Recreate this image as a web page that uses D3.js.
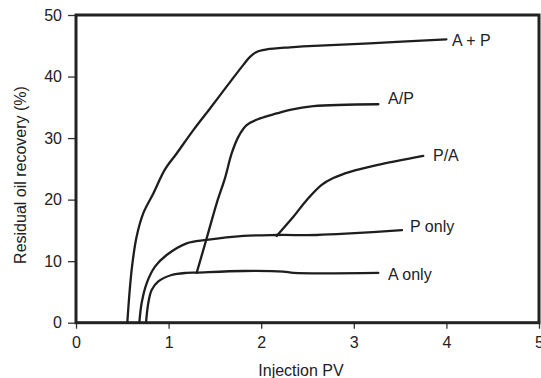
<!DOCTYPE html>
<html>
<head>
<meta charset="utf-8">
<script src="https://cdn.jsdelivr.net/npm/d3@7/dist/d3.min.js"></script>
<style>
  html, body { margin: 0; padding: 0; background: #fff; }
  svg { display: block; }
  text { font-family: "Liberation Sans", Arial, Helvetica, sans-serif; fill: #222; }
</style>
</head>
<body>
<svg id="chart" width="541" height="378"></svg>
<script>
// Residual oil recovery versus injected pore volumes for each flooding scheme
const xTicks = [0, 1, 2, 3, 4, 5];
const yTicks = [0, 10, 20, 30, 40, 50];

const apX = [0.554, 0.601, 0.655, 0.727, 0.835, 0.961, 1.087, 1.267, 1.447, 1.628, 1.807, 1.879, 1.951, 2.06, 2.31, 2.45, 3.17, 4.0];
const apY = [0, 8.6, 14.0, 17.8, 21.0, 24.9, 27.5, 31.3, 34.8, 38.4, 41.9, 43.2, 44.0, 44.4, 44.75, 44.9, 45.4, 46.05];

const aThenPX = [1.303, 1.411, 1.519, 1.609, 1.681, 1.753, 1.843, 1.987, 2.167, 2.311, 2.563, 3.265];
const aThenPY = [8.1, 13.7, 19.4, 23.5, 27.5, 30.2, 32.1, 33.2, 34.0, 34.6, 35.2, 35.5];

const pThenAX = [2.167, 2.347, 2.49, 2.653, 2.779, 2.959, 3.247, 3.75];
const pThenAY = [14.1, 17.2, 19.9, 22.4, 23.5, 24.5, 25.6, 27.1];

const pOnlyX = [0.684, 0.709, 0.763, 0.853, 0.979, 1.195, 1.411, 1.807, 2.167, 2.6, 2.96, 3.52];
const pOnlyY = [0, 3.2, 6.4, 9.1, 11.0, 12.9, 13.45, 14.1, 14.25, 14.25, 14.5, 15.05];

const aOnlyX = [0.756, 0.781, 0.817, 0.889, 1.033, 1.195, 1.303, 1.807, 2.24, 2.35, 3.265];
const aOnlyY = [0, 3.2, 5.3, 6.7, 7.75, 8.1, 8.15, 8.4, 8.3, 8.1, 8.1];

const seriesNames = ["A + P", "A/P", "P/A", "P only", "A only"];

const svg = d3.select("#chart");
const margin = { left: 76, top: 15, right: 2, bottom: 55.3 };
const W = 541, H = 378;

const x = d3.scaleLinear().domain([0, 5]).range([margin.left, W - margin.right]);
const y = d3.scaleLinear().domain([0, 50]).range([H - margin.bottom, margin.top]);

// axes with outward ticks
const gy = svg.append("g")
  .attr("transform", `translate(${margin.left},0)`)
  .call(d3.axisLeft(y).tickValues(yTicks).tickSize(8).tickPadding(6).tickFormat(d3.format("d")));
const gx = svg.append("g")
  .attr("transform", `translate(0,${H - margin.bottom})`)
  .call(d3.axisBottom(x).tickValues(xTicks).tickSize(6).tickPadding(8).tickFormat(d3.format("d")));
[gx, gy].forEach(g => {
  g.select(".domain").remove();
  g.selectAll(".tick line").attr("stroke", "#333").attr("stroke-width", 1.3);
  g.selectAll(".tick text").style("font-size", "16px").attr("fill", "#222");
});

// plot frame
svg.append("rect")
  .attr("x", x(0)).attr("y", y(50))
  .attr("width", x(5) - x(0)).attr("height", y(0) - y(50))
  .attr("fill", "none").attr("stroke", "#222").attr("stroke-width", 3);

// curves
const line = d3.line()
  .x(d => x(d[0])).y(d => y(d[1]))
  .curve(d3.curveCatmullRom.alpha(0.5));

const series = [
  [apX, apY], [aThenPX, aThenPY], [pThenAX, pThenAY], [pOnlyX, pOnlyY], [aOnlyX, aOnlyY]
];
series.forEach(([xs, ys]) => {
  svg.append("path")
    .datum(xs.map((v, i) => [v, ys[i]]))
    .attr("d", line)
    .attr("fill", "none")
    .attr("stroke", "#1e1e1e")
    .attr("stroke-width", 2.3)
    .attr("stroke-linejoin", "round")
    .attr("stroke-linecap", "round");
});

// curve labels next to line ends
const labelPos = [
  [4.06, 45.9], [3.37, 36.4], [3.855, 27.2], [3.607, 15.7], [3.37, 7.8]
];
seriesNames.forEach((name, i) => {
  svg.append("text")
    .attr("x", x(labelPos[i][0]))
    .attr("y", y(labelPos[i][1]))
    .attr("dy", "0.35em")
    .style("font-size", "16px")
    .text(name);
});

// axis titles
svg.append("text")
  .attr("x", 301).attr("y", 376)
  .attr("text-anchor", "middle")
  .style("font-size", "16px")
  .text("Injection PV");
svg.append("text")
  .attr("transform", "translate(26,175) rotate(-90)")
  .attr("text-anchor", "middle")
  .style("font-size", "16px")
  .text("Residual oil recovery (%)");
</script>
</body>
</html>
